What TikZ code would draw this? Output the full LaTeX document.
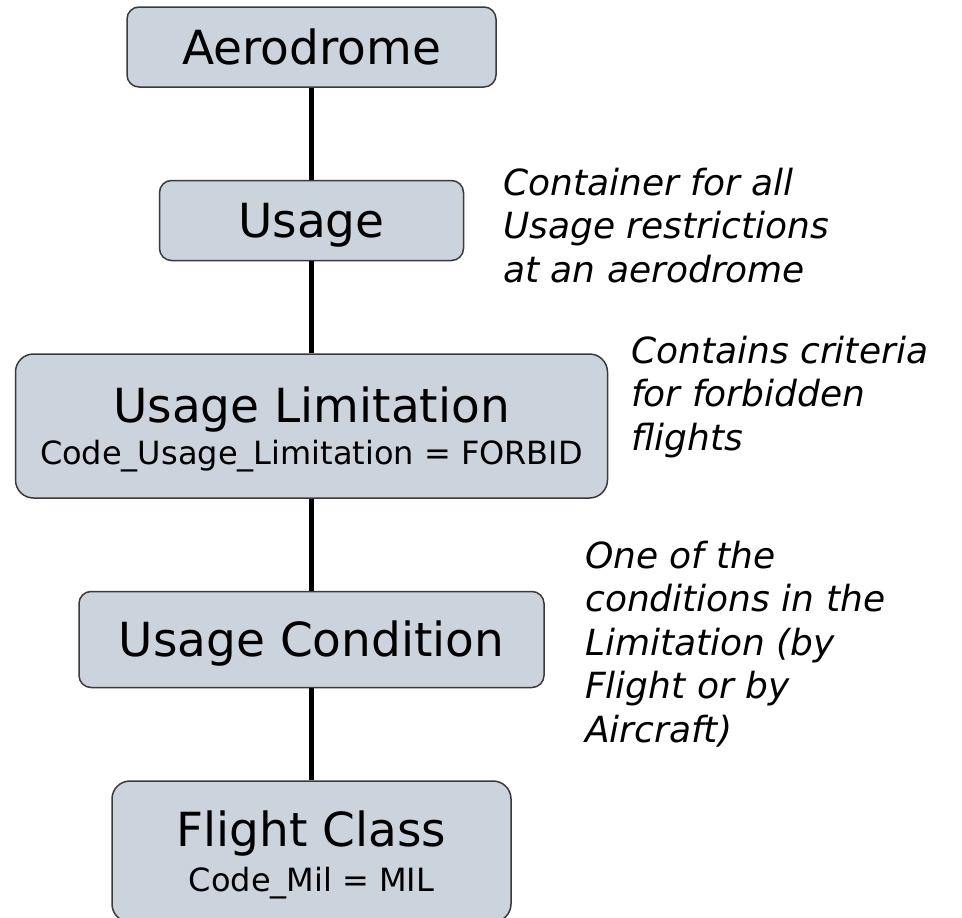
\documentclass[tikz,border=0pt]{standalone}
\usepackage{fontspec}
\setmainfont{DejaVu Sans}
\usepackage{tikz}
\usetikzlibrary{positioning}

\definecolor{boxfill}{HTML}{CBD3DD}
\definecolor{boxline}{HTML}{3A3A3A}

\newcommand{\boxfont}{\fontsize{47}{42}\selectfont}
\newcommand{\codefont}{\fontsize{32}{42}\selectfont}
\newcommand{\notefont}{\fontsize{36}{43.5}\selectfont\itshape}

\begin{document}
\begin{tikzpicture}
[
x=1pt, y=-1pt,
unit/.style={rectangle, draw=boxline, line width=1.5pt, fill=boxfill,
  inner sep=0pt, align=center, font=\boxfont},
unit-a/.style={unit, rounded corners=12pt, text height=34pt, text depth=0pt},
unit-b/.style={unit, rounded corners=18pt},
note-a/.style={anchor=base west, align=left, inner sep=0pt, font=\notefont},
link-a/.style={line width=5.5pt, black},
]
\useasboundingbox (0,0) rectangle (962,918);

\node (aero)   [unit-a, minimum width=369pt, minimum height=80pt] at (311.5,47) {Aerodrome};
\node (usage)  [unit-a, minimum width=304pt, minimum height=80pt, below = 92pt of aero] {Usage};
\node (limit)  [unit-b, minimum width=592pt, minimum height=144pt, text depth=-4pt, below = 92pt of usage]
  {Usage Limitation\\{\codefont Code\_Usage\_Limitation = FORBID}};
\node (cond)   [unit-a, minimum width=465pt, minimum height=96pt, below = 92pt of limit] {Usage Condition};
\node (flight) [unit-b, minimum width=399pt, minimum height=141pt, text depth=-8pt, below = 92pt of cond]
  {Flight Class\\[3pt]{\codefont Code\_Mil = MIL}};

\node (n1) [note-a] at (503,282) {Container for all\\Usage restrictions\\at an aerodrome};
\node (n2) [note-a] at (631,450) {Contains criteria\\for forbidden\\flights};
\node (n3) [note-a] at (585,742) {One of the\\conditions in the\\Limitation (by\\Flight or by\\Aircraft)};

\draw [link-a] (aero) -- (usage);
\draw [link-a] (usage) -- (limit);
\draw [link-a] (limit) -- (cond);
\draw [link-a] (cond) -- (flight);
\end{tikzpicture}
\end{document}
